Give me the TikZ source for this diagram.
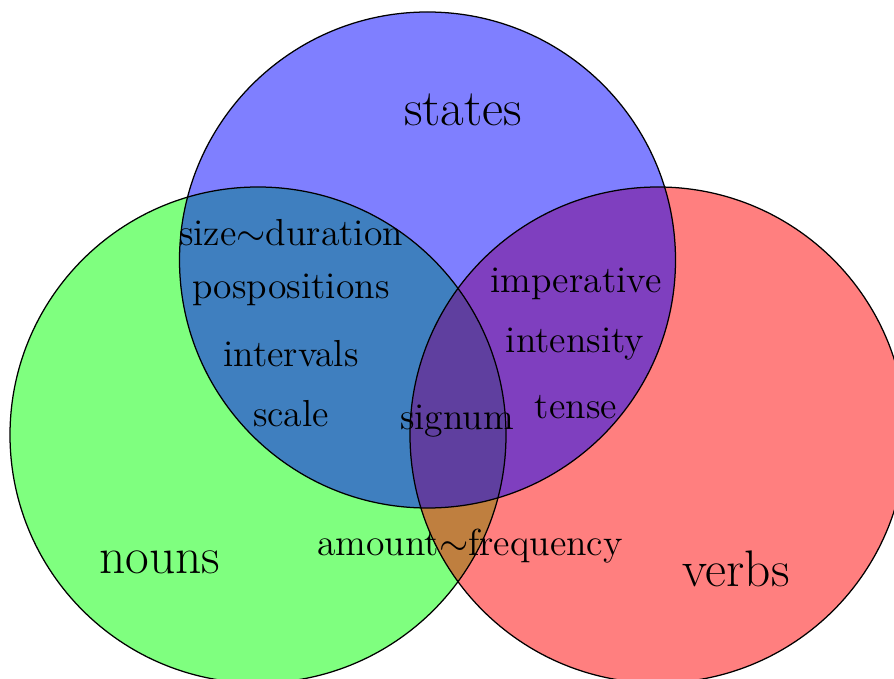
\documentclass[tikz,border=0pt]{standalone}
\begin{document}
\begin{tikzpicture}[x=0.319pt,y=-0.319pt,
  setfill/.style={fill opacity=0.5},
  setline/.style={draw=black, line width=0.4pt},
  small/.style={inner sep=0pt, font=\fontsize{12}{14}\selectfont},
  big/.style={inner sep=0pt, font=\fontsize{16.4}{20}\selectfont}]
\useasboundingbox (0,0) rectangle (894,679);
\clip (0,0) rectangle (894,679);
\fill[white] (0,0) rectangle (894,679);
\coordinate (cn) at (258,435);
\coordinate (cv) at (658,435);
\coordinate (cs) at (427.5,260);
\fill[setfill, green] (cn) circle[radius=248];
\fill[setfill, red] (cv) circle[radius=248];
\fill[setfill, blue] (cs) circle[radius=248];
\draw[setline] (cn) circle[radius=248];
\draw[setline] (cv) circle[radius=248];
\draw[setline] (cs) circle[radius=248];
\node[big] (states) at (463,110) {states};
\node[big] (nouns) at (160,562) {nouns};
\node[big] (verbs) at (736,569) {verbs};
\node[small] (sd) at (291,233) {size$\sim$duration};
\node[small] (pos) at (291,290) {pospositions};
\node[small] (int) at (291,354) {intervals};
\node[small] (scale) at (291,414) {scale};
\node[small] (imp) at (576,284) {imperative};
\node[small] (inten) at (575,344) {intensity};
\node[small] (tense) at (576,407) {tense};
\node[small] (sig) at (457,421) {signum};
\node[small] (af) at (470,546) {amount$\sim$frequency};
\end{tikzpicture}
\end{document}
